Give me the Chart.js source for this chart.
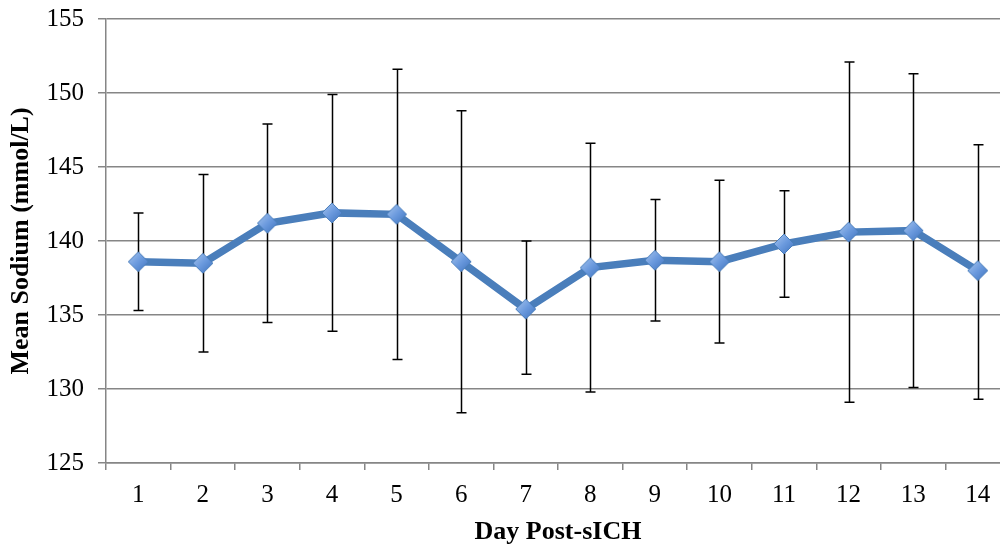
<!DOCTYPE html>
<html>
<head>
<meta charset="utf-8">
<script src="https://cdn.jsdelivr.net/npm/chart.js@4.4.1/dist/chart.umd.min.js"></script>
<style>
  html, body { margin: 0; padding: 0; background: #fff; overflow: hidden; }
  #wrap { width: 1010px; height: 550px; }
</style>
</head>
<body>
<div id="wrap"><canvas id="chart-1"></canvas></div>
<script>
// days after sICH and mean sodium with error bar ends (mmol/L)
const days = ['1', '2', '3', '4', '5', '6', '7', '8', '9', '10', '11', '12', '13', '14'];
const meanSodium = [138.6, 138.5, 141.2, 141.9, 141.8, 138.6, 135.4, 138.2, 138.7, 138.6, 139.8, 140.6, 140.7, 138.0];
const errHigh = [141.9, 144.5, 147.9, 149.9, 151.6, 148.8, 140.0, 146.6, 142.8, 144.1, 143.4, 152.1, 151.3, 146.5];
const errLow = [135.3, 132.5, 134.5, 133.9, 132.0, 128.4, 131.0, 129.8, 134.6, 133.1, 136.2, 129.1, 130.1, 129.3];
const yMin = 125, yMax = 155, yStep = 5;

// diamond marker with a little shading, like the office charts
function makeDiamond(r) {
  var c = document.createElement('canvas');
  c.width = c.height = 2 * r + 2;
  var g = c.getContext('2d');
  var m = r + 1;
  var grad = g.createLinearGradient(1, 1, 2 * r + 1, 2 * r + 1);
  grad.addColorStop(0, '#a9c6ee');
  grad.addColorStop(0.5, '#6b9ade');
  grad.addColorStop(1, '#3f73bd');
  g.beginPath();
  g.moveTo(m, 1);
  g.lineTo(2 * r + 1, m);
  g.lineTo(m, 2 * r + 1);
  g.lineTo(1, m);
  g.closePath();
  g.fillStyle = grad;
  g.fill();
  g.strokeStyle = '#4a7ebb';
  g.lineWidth = 1;
  g.stroke();
  return c;
}

const errorBars = {
  id: 'errorBars',
  beforeDatasetsDraw(chart) {
    const ctx = chart.ctx;
    const x = chart.scales.x, y = chart.scales.y;
    ctx.save();
    ctx.strokeStyle = '#000';
    ctx.lineWidth = 1.5;
    days.forEach(function (d, i) {
      const px = Math.round(x.getPixelForValue(i)) + 0.5;
      const top = y.getPixelForValue(errHigh[i]);
      const bot = y.getPixelForValue(errLow[i]);
      ctx.beginPath();
      ctx.moveTo(px, top); ctx.lineTo(px, bot);
      ctx.moveTo(px - 5, top); ctx.lineTo(px + 5, top);
      ctx.moveTo(px - 5, bot); ctx.lineTo(px + 5, bot);
      ctx.stroke();
    });
    ctx.restore();
  }
};

var myChart1 = new Chart(document.getElementById('chart-1'), {
  type: 'line',
  data: {
    labels: days,
    datasets: [{
      label: 'Mean Sodium',
      data: meanSodium,
      borderColor: '#4a7ebb',
      borderWidth: 7.5,
      tension: 0,
      pointStyle: makeDiamond(10),
      pointRadius: 10
    }]
  },
  plugins: [errorBars],
  options: {
    responsive: true,
    maintainAspectRatio: false,
    animation: false,
    layout: { autoPadding: false, padding: { top: 19, left: 0, right: 0, bottom: 0 } },
    plugins: {
      legend: { display: false },
      tooltip: { enabled: false }
    },
    scales: {
      x: {
        type: 'category',
        offset: true,
        grid: { offset: true, drawOnChartArea: false, tickLength: 7, color: '#868686', lineWidth: 1.5 },
        border: { color: '#868686', width: 1.5 },
        ticks: { color: '#000', font: { family: 'Liberation Serif', size: 25 }, padding: 10, maxRotation: 0 },
        title: {
          display: true,
          text: 'Day Post-sICH',
          color: '#000',
          font: { family: 'Liberation Serif', size: 26, weight: 'bold' },
          padding: { top: 0, bottom: 2 }
        },
        afterFit: function (scale) {
          scale.height = 87;
          scale.paddingLeft = 0;
          scale.paddingRight = 0;
        }
      },
      y: {
        min: yMin,
        max: yMax,
        ticks: { stepSize: yStep, color: '#000', font: { family: 'Liberation Serif', size: 25 }, padding: 14 },
        grid: { color: '#868686', lineWidth: 1.5, tickLength: 8 },
        border: { color: '#868686', width: 1.5 },
        title: {
          display: true,
          text: 'Mean Sodium (mmol/L)',
          color: '#000',
          font: { family: 'Liberation Serif', size: 26, weight: 'bold' },
          padding: { top: 6, bottom: 0 }
        },
        afterFit: function (scale) {
          scale.width = 106;
          scale.paddingTop = 0;
          scale.paddingBottom = 0;
        }
      }
    }
  }
});
</script>
</body>
</html>
